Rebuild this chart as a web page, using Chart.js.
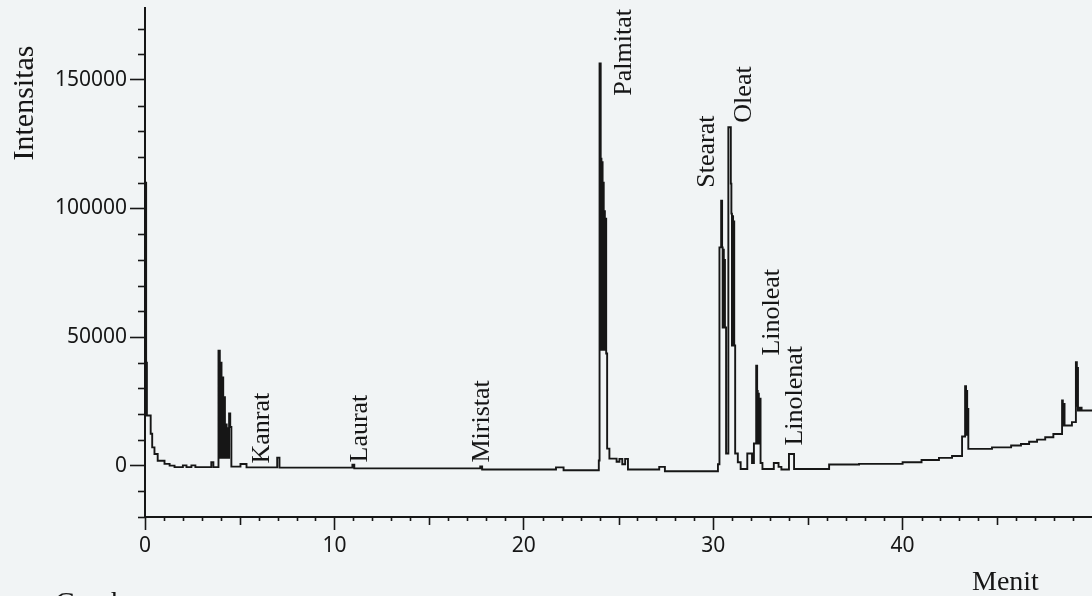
<!DOCTYPE html>
<html>
<head>
<meta charset="utf-8">
<script src="https://cdn.jsdelivr.net/npm/chart.js@4.4.1/dist/chart.umd.min.js"></script>
<style>
  html, body { margin: 0; padding: 0; background: #f1f4f5; }
  #wrap { width: 1092px; height: 596px; position: relative; }
</style>
</head>
<body>
<div id="wrap"><canvas id="chromatogram"></canvas></div>
<script>
//
//
// Data (time in minutes, intensity in counts)
var retentionTime = [
    0, 0.06, 0.10, 0.30, 0.38, 0.50, 0.67, 1.03, 1.30, 1.56,
    2.00, 2.19, 2.45, 2.66, 3.50, 3.61,
    3.88, 3.95, 3.99, 4.04, 4.08, 4.13, 4.17, 4.22, 4.26, 4.31, 4.35, 4.40, 4.44, 4.50, 4.56,
    5.04, 5.36, 6.98, 7.10, 10.95, 11.05, 17.70, 17.80, 21.70, 22.10,
    23.96, 24.00, 24.06, 24.10, 24.13, 24.16, 24.19, 24.22, 24.25, 24.28, 24.31, 24.35, 24.40,
    24.52, 24.90, 25.05, 25.20, 25.35, 25.50, 27.15, 27.45,
    30.25, 30.33, 30.42, 30.47, 30.50, 30.53, 30.56, 30.59, 30.62, 30.68,
    30.80, 30.93, 30.96, 30.99, 31.02, 31.05, 31.08, 31.11, 31.16,
    31.30, 31.45, 31.80, 32.05,
    32.15, 32.27, 32.32, 32.35, 32.38, 32.41, 32.44, 32.50, 32.60,
    33.20, 33.45, 33.60, 34.00, 34.27,
    36.12, 37.70, 40.00, 41.00, 41.92, 42.61,
    43.14, 43.30, 43.35, 43.38, 43.41, 43.44, 43.47,
    44.72, 45.73, 46.25, 46.68, 47.10, 47.53, 47.96,
    48.42, 48.46, 48.50, 48.55, 48.94,
    49.15, 49.20, 49.23, 49.26, 49.35, 49.45, 50.00
];
var intensity = [
    110000, 40000, 19500, 12400, 7100, 4500, 1900, 650, 0, -600,
    100, -600, 100, -600, 1300, -600,
    44700, 3000, 40000, 3000, 34300, 3000, 26600, 3000, 16000, 3000, 14500, 3000, 20300, 15000, -400,
    600, -700, 3100, -800, 300, -1100, -300, -1500, -700, -1800,
    2000, 156400, 119400, 45000, 118000, 45000, 110000, 45000, 99000, 45000, 96000, 43600, 6600,
    2700, 1500, 2600, 500, 2600, -1500, -500, -2200,
    500, 84900, 103000, 84900, 53700, 84000, 53700, 80000, 53700, 4700,
    131600, 109700, 98000, 46700, 97000, 46700, 95000, 46700, 4700,
    1300, -1300, 4700, 1000,
    8600, 38900, 29000, 8600, 28000, 8600, 26000, 1000, -1300,
    1000, -500, -1500, 4500, -1300,
    400, 650, 1300, 2200, 3000, 3700,
    11300, 30900, 12000, 29000, 12000, 22000, 6500,
    7100, 7800, 8400, 9300, 10100, 11000, 12300,
    25300, 15600, 24000, 15600, 16900,
    40200, 23300, 38000, 21400, 22500, 21400, 21400
];

// Peak names and where each rotated name starts (time, intensity)
var peakNames = ['Kanrat', 'Laurat', 'Miristat', 'Palmitat', 'Stearat', 'Oleat', 'Linoleat', 'Linolenat'];
var peakLabelTime = [6.57, 11.74, 18.18, 25.67, 30.05, 32.01, 33.48, 34.69];
var peakLabelIntensity = [800, 1200, 1200, 143900, 108100, 133400, 42800, 7800];

// Labelled ticks
var xTickLabels = [0, 10, 20, 30, 40];
var yTickLabels = [0, 50000, 100000, 150000];

var INK = '#161616';
var SERIF = '"Liberation Serif", "DejaVu Serif", serif';
var SANS = '"Noto Sans", "DejaVu Sans", sans-serif';

var points = retentionTime.map(function(t, i) {
    return { x: t, y: intensity[i] };
});

// every tick mark, labelled or not
function stepTicks(from, to, step) {
    var out = [];
    for (var v = from; v <= to; v += step) out.push({ value: v });
    return out;
}

//
// Minor ticks, peak names and axis titles
var decorations = {
    id: 'decorations',
    afterDraw: function(chart) {
        var ctx = chart.ctx;
        var xs = chart.scales.x;
        var ys = chart.scales.y;
        ctx.save();
        ctx.strokeStyle = INK;
        ctx.lineWidth = 1.6;

        ys.ticks.forEach(function(tk) {
            if (tk.value % 50000 === 0) return;
            var py = Math.round(ys.getPixelForValue(tk.value)) + 0.5;
            ctx.beginPath();
            ctx.moveTo(ys.right - 7, py);
            ctx.lineTo(ys.right, py);
            ctx.stroke();
        });
        xs.ticks.forEach(function(tk) {
            if (tk.value % 10 === 0) return;
            var len = tk.value % 5 === 0 ? 8 : 4;
            var px = Math.round(xs.getPixelForValue(tk.value)) + 0.5;
            ctx.beginPath();
            ctx.moveTo(px, xs.top);
            ctx.lineTo(px, xs.top + len);
            ctx.stroke();
        });

        ctx.fillStyle = INK;
        ctx.textBaseline = 'alphabetic';

        // peak names, reading upwards
        ctx.font = '26px ' + SERIF;
        ctx.textAlign = 'left';
        peakNames.forEach(function(name, i) {
            ctx.save();
            ctx.translate(xs.getPixelForValue(peakLabelTime[i]), ys.getPixelForValue(peakLabelIntensity[i]));
            ctx.rotate(-Math.PI / 2);
            ctx.fillText(name, 0, 0);
            ctx.restore();
        });

        // axis titles
        ctx.font = '30px ' + SERIF;
        ctx.save();
        ctx.translate(33, 103);
        ctx.rotate(-Math.PI / 2);
        ctx.textAlign = 'center';
        ctx.fillText('Intensitas', 0, 0);
        ctx.restore();

        ctx.font = '28px ' + SERIF;
        ctx.textAlign = 'left';
        ctx.fillText('Menit', 972, 590);

        // caption, cut by the page edge
        ctx.font = '29px ' + SERIF;
        ctx.fillText('Gambar', 55, 612);
        ctx.restore();
    }
};

new Chart(document.getElementById('chromatogram'), {
    type: 'line',
    data: {
        datasets: [{
            label: 'Intensitas',
            data: points,
            stepped: true,
            borderColor: INK,
            borderWidth: 1.9,
            pointRadius: 0,
            fill: false,
            tension: 0
        }]
    },
    plugins: [decorations],
    options: {
        responsive: true,
        maintainAspectRatio: false,
        animation: false,
        events: [],
        layout: { padding: { top: 8, left: 0, right: 0, bottom: 0 } },
        plugins: {
            legend: { display: false },
            tooltip: { enabled: false }
        },
        scales: {
            x: {
                type: 'linear',
                min: 0,
                max: 50,
                afterBuildTicks: function(scale) { scale.ticks = stepTicks(0, 49, 1); },
                afterFit: function(scale) {
                    scale.height = 79;
                    scale.paddingLeft = 0;
                    scale.paddingRight = 0;
                },
                border: { display: true, color: INK, width: 2 },
                grid: {
                    drawOnChartArea: false,
                    tickLength: 13,
                    tickWidth: 1.6,
                    tickColor: function(c) {
                        return c.tick && c.tick.value % 10 === 0 ? INK : 'rgba(0,0,0,0)';
                    }
                },
                ticks: {
                    autoSkip: false,
                    maxRotation: 0,
                    padding: 3,
                    color: INK,
                    font: { family: SANS, size: 21 },
                    callback: function(v) {
                        return xTickLabels.indexOf(v) >= 0 ? String(v) : '';
                    }
                }
            },
            y: {
                type: 'linear',
                min: -20000,
                max: 178000,
                afterBuildTicks: function(scale) { scale.ticks = stepTicks(-20000, 170000, 10000); },
                afterFit: function(scale) {
                    scale.width = 145;
                    scale.paddingTop = 0;
                    scale.paddingBottom = 0;
                },
                border: { display: true, color: INK, width: 2 },
                grid: {
                    drawOnChartArea: false,
                    tickLength: 15,
                    tickWidth: 1.6,
                    tickColor: function(c) {
                        return c.tick && c.tick.value % 50000 === 0 ? INK : 'rgba(0,0,0,0)';
                    }
                },
                ticks: {
                    autoSkip: false,
                    padding: 3,
                    color: INK,
                    font: { family: SANS, size: 21 },
                    callback: function(v) {
                        return yTickLabels.indexOf(v) >= 0 ? String(v) : '';
                    }
                }
            }
        }
    }
});
</script>
</body>
</html>
